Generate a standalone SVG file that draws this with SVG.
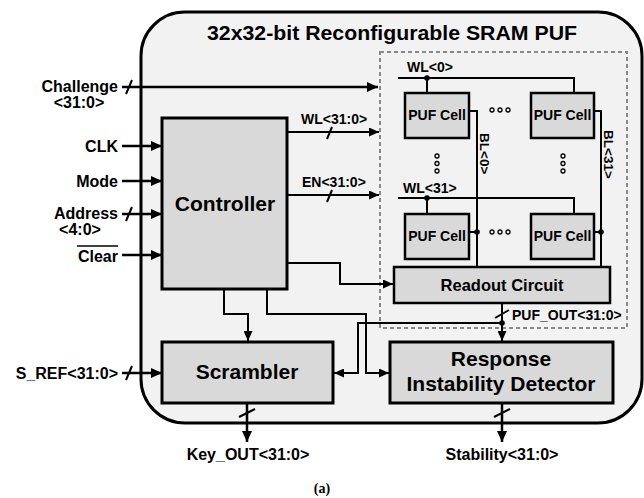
<svg xmlns="http://www.w3.org/2000/svg" width="644" height="498" viewBox="0 0 644 498">
<defs>
<marker id="ah" markerUnits="userSpaceOnUse" markerWidth="12" markerHeight="10" refX="11" refY="5" orient="auto">
<path d="M0,0 L11,5 L0,10 z" fill="#000"/>
</marker>
<marker id="ahs" markerUnits="userSpaceOnUse" markerWidth="11" markerHeight="9" refX="10" refY="4.5" orient="auto">
<path d="M0,0 L10,4.5 L0,9 z" fill="#000"/>
</marker>
<style>
text{font-family:"Liberation Sans",Arial,sans-serif;font-weight:bold;fill:#000}
.box{fill:#d9d9d9;stroke:#000;stroke-width:3}
.cell{fill:#d9d9d9;stroke:#000;stroke-width:2.5}
.w{fill:none;stroke:#000;stroke-width:2.5}
.t{fill:none;stroke:#000;stroke-width:2}
.s{stroke:#000;stroke-width:2}
.lbl{font-size:16px}
.sm{font-size:14px}
.big{font-size:21px}
.dot{fill:none;stroke:#000;stroke-width:1.3}
</style>
</defs>
<rect x="0" y="0" width="644" height="498" fill="#fff"/>
<g id="puf">
<rect x="141" y="12" width="501" height="411" rx="44" ry="44" fill="#f2f2f2" stroke="#000" stroke-width="3"/>
<text x="392" y="40" text-anchor="middle" font-size="21" textLength="370" lengthAdjust="spacingAndGlyphs">32x32-bit Reconfigurable SRAM PUF</text>
</g>
<g id="array">
<rect x="380" y="52" width="247" height="276" fill="none" stroke="#888" stroke-width="2" stroke-dasharray="4,3"/>
</g>
<g id="controller">
<rect class="box" x="162" y="118" width="125" height="171"/>
<text class="big" x="225" y="211" text-anchor="middle">Controller</text>
</g>
<g id="cell00">
<rect class="cell" x="405" y="93" width="64" height="45"/>
<text class="sm" x="437" y="120" text-anchor="middle">PUF Cell</text>
</g>
<g id="cell031">
<rect class="cell" x="531" y="93" width="63" height="45"/>
<text class="sm" x="562.5" y="120" text-anchor="middle">PUF Cell</text>
</g>
<g id="cell310">
<rect class="cell" x="405" y="214" width="64" height="45"/>
<text class="sm" x="437" y="241" text-anchor="middle">PUF Cell</text>
</g>
<g id="cell3131">
<rect class="cell" x="531" y="214" width="63" height="45"/>
<text class="sm" x="562.5" y="241" text-anchor="middle">PUF Cell</text>
</g>
<g id="readout">
<rect class="cell" x="394" y="267" width="216" height="36"/>
<text x="502" y="291" text-anchor="middle" font-size="16.5">Readout Circuit</text>
</g>
<g id="scrambler">
<rect class="box" x="162" y="342" width="171" height="61"/>
<text class="big" x="247" y="379" text-anchor="middle">Scrambler</text>
</g>
<g id="rid">
<rect class="box" x="390" y="342" width="223" height="61"/>
<text class="big" x="501" y="366" text-anchor="middle">Response</text>
<text class="big" x="501" y="391" text-anchor="middle">Instability Detector</text>
</g>
<g id="connectors">
<!-- inputs -->
<line class="w" x1="122" y1="87" x2="378" y2="87" marker-end="url(#ah)"/>
<line class="s" x1="126" y1="94" x2="132" y2="80"/>
<line class="w" x1="122" y1="146" x2="162" y2="146" marker-end="url(#ah)"/>
<line class="w" x1="122" y1="181" x2="162" y2="181" marker-end="url(#ah)"/>
<line class="w" x1="122" y1="214" x2="162" y2="214" marker-end="url(#ah)"/>
<line class="s" x1="126" y1="221" x2="132" y2="207"/>
<line class="w" x1="122" y1="255" x2="162" y2="255" marker-end="url(#ah)"/>
<line class="w" x1="122" y1="373" x2="162" y2="373" marker-end="url(#ah)"/>
<line class="s" x1="126" y1="380" x2="132" y2="366"/>
<!-- controller to array -->
<line class="t" x1="287" y1="132" x2="379" y2="132" marker-end="url(#ahs)"/>
<line class="s" x1="327" y1="139" x2="332" y2="127"/>
<line class="t" x1="287" y1="195" x2="379" y2="195" marker-end="url(#ahs)"/>
<line class="s" x1="327" y1="202" x2="332" y2="190"/>
<polyline class="t" points="287,263 340,263 340,284 393,284" marker-end="url(#ahs)"/>
<!-- word lines -->
<polyline class="t" points="398,78 574,78 574,93"/>
<line class="t" x1="427" y1="78" x2="427" y2="93"/>
<circle cx="427" cy="78" r="2.8"/>
<polyline class="t" points="398,198 574,198 574,214"/>
<line class="t" x1="427" y1="198" x2="427" y2="214"/>
<circle cx="427" cy="198" r="2.8"/>
<!-- bit lines -->
<polyline class="t" points="469,111 477,111 477,267"/>
<polyline class="t" points="594,111 601,111 601,267"/>
<line class="t" x1="469" y1="232" x2="477" y2="232"/>
<line class="t" x1="594" y1="232" x2="601" y2="232"/>
<circle cx="477" cy="232" r="2.8"/>
<circle cx="601" cy="232" r="2.8"/>
<!-- PUF_OUT -->
<line class="t" x1="502" y1="303" x2="502" y2="341" marker-end="url(#ahs)"/>
<line class="s" x1="495" y1="318" x2="509" y2="310"/>
<circle cx="502" cy="323" r="2.8"/>
<polyline class="t" points="502,323 358,323 358,373 334,373" marker-end="url(#ahs)"/>
<!-- controller down -->
<polyline class="t" points="224,289 224,314 248,314 248,341" marker-end="url(#ahs)"/>
<polyline class="t" points="267,289 267,314 366,314 366,373 389,373" marker-end="url(#ahs)"/>
<!-- outputs -->
<line class="w" x1="247" y1="403" x2="247" y2="442" marker-end="url(#ah)"/>
<line class="s" x1="239" y1="417" x2="255" y2="409"/>
<line class="w" x1="502" y1="403" x2="502" y2="442" marker-end="url(#ah)"/>
<line class="s" x1="494" y1="417" x2="510" y2="409"/>
</g>
<g id="dots">
<circle class="dot" cx="492" cy="110" r="2"/><circle class="dot" cx="500" cy="110" r="2"/><circle class="dot" cx="508" cy="110" r="2"/>
<circle class="dot" cx="492" cy="232" r="2"/><circle class="dot" cx="500" cy="232" r="2"/><circle class="dot" cx="508" cy="232" r="2"/>
<circle class="dot" cx="437" cy="156" r="2"/><circle class="dot" cx="437" cy="163.5" r="2"/><circle class="dot" cx="437" cy="171" r="2"/>
<circle class="dot" cx="563" cy="156" r="2"/><circle class="dot" cx="563" cy="163.5" r="2"/><circle class="dot" cx="563" cy="171" r="2"/>
</g>
<g id="labels">
<text class="lbl" x="118" y="92" text-anchor="end">Challenge</text>
<text class="lbl" x="79" y="108" text-anchor="middle">&lt;31:0&gt;</text>
<text class="lbl" x="118" y="152" text-anchor="end">CLK</text>
<text class="lbl" x="118" y="187" text-anchor="end">Mode</text>
<text class="lbl" x="118" y="219" text-anchor="end">Address</text>
<text class="lbl" x="80" y="235" text-anchor="middle">&lt;4:0&gt;</text>
<text class="lbl" x="118" y="262" text-anchor="end">Clear</text>
<line x1="77" y1="246" x2="118" y2="246" stroke="#000" stroke-width="1.5"/>
<text class="lbl" x="118" y="379" text-anchor="end">S_REF&lt;31:0&gt;</text>
<text class="sm" x="301" y="124">WL&lt;31:0&gt;</text>
<text class="sm" x="302" y="187">EN&lt;31:0&gt;</text>
<text class="sm" x="407" y="72">WL&lt;0&gt;</text>
<text class="sm" x="403" y="193">WL&lt;31&gt;</text>
<text x="0" y="0" font-size="13.5" transform="translate(479.5,133) rotate(90)">BL&lt;0&gt;</text>
<text x="0" y="0" font-size="13.5" transform="translate(603.5,130) rotate(90)">BL&lt;31&gt;</text>
<text class="sm" x="512" y="320">PUF_OUT&lt;31:0&gt;</text>
<text class="lbl" x="248" y="460" text-anchor="middle">Key_OUT&lt;31:0&gt;</text>
<text class="lbl" x="502" y="460" text-anchor="middle">Stability&lt;31:0&gt;</text>
<text x="322" y="493" text-anchor="middle" style="font-family:'Liberation Serif','Times New Roman',serif" font-size="14">(a)</text>
</g>
</svg>
